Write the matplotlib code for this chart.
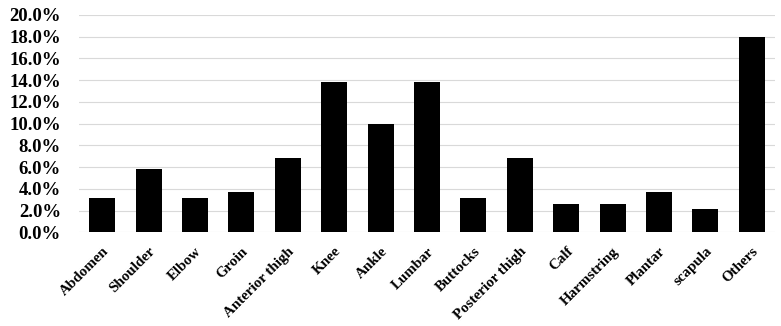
import matplotlib
matplotlib.use("Agg")
import matplotlib.pyplot as plt
from matplotlib.ticker import FuncFormatter, MultipleLocator

categories = ["Abdomen", "Shoulder", "Elbow", "Groin", "Anterior thigh", "Knee", "Ankle",
              "Lumbar", "Buttocks", "Posterior thigh", "Calf", "Harmstring", "Plantar",
              "scapula", "Others"]
values = [3.16, 5.79, 3.16, 3.68, 6.84, 13.8, 10.0, 13.8, 3.16, 6.84, 2.63, 2.63, 3.68, 2.11, 18.0]

plt.rcParams['font.family'] = ['Liberation Serif', 'DejaVu Serif']
plt.rcParams['font.weight'] = 'bold'

fig = plt.figure(figsize=(7.81, 3.26), dpi=100)
ax = fig.add_axes([79/781, 1 - 232.3/326, 696/781, (232.3 - 15)/326])

x = range(len(categories))
ax.bar(x, values, width=0.56, color='black', zorder=3)
ax.set_xlim(-0.5, len(categories) - 0.5)
ax.set_ylim(0, 20)
ax.yaxis.set_major_locator(MultipleLocator(2))
ax.yaxis.set_major_formatter(FuncFormatter(lambda v, p: f"{v:.1f}%"))
ax.grid(axis='y', color='#d9d9d9', linewidth=0.8, zorder=0)
for s in ax.spines.values():
    s.set_visible(False)
ax.tick_params(axis='both', length=0)
ax.tick_params(axis='y', labelsize=13.5, pad=13)
ax.set_xticks(list(x))
ax.set_xticklabels(categories, rotation=45, ha='right', rotation_mode='anchor', fontsize=10.8)
ax.tick_params(axis='x', pad=9)
for lbl in ax.get_xticklabels() + ax.get_yticklabels():
    lbl.set_fontweight('bold')

fig.savefig("out.png", dpi=100)
